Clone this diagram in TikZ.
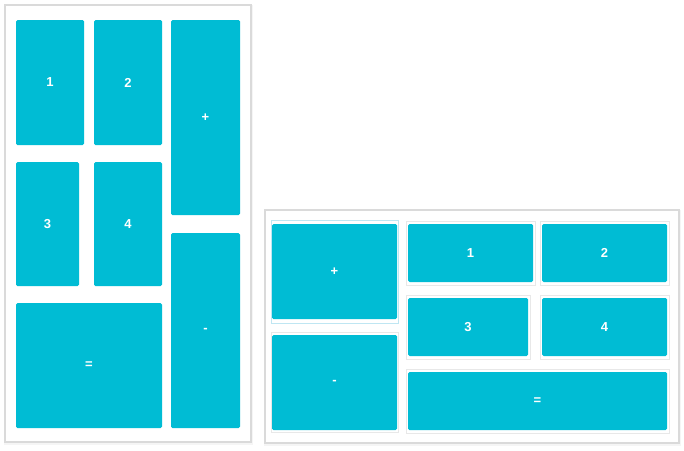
\documentclass[tikz,border=0pt]{standalone}
\usepackage{fontspec}
\setmainfont{Liberation Sans}
\definecolor{tilecyan}{HTML}{00BCD4}
\definecolor{framegray}{HTML}{DADADA}
\definecolor{outgray}{HTML}{E8E8E8}
\definecolor{selblue}{HTML}{BFE6F2}
\tikzset{
  tile/.style={fill=tilecyan, draw=none, rounded corners=1.5pt, inner sep=0pt, outer sep=0pt,
    anchor=north west, text=white, font=\fontsize{13}{13}\selectfont\bfseries},
  panel/.style={fill=white, draw=framegray, line width=1.6pt},
  tileout/.style={draw=outgray, line width=0.8pt, fill=white},
  selout/.style={draw=selblue, line width=1pt, fill=white},
}
\begin{document}
\begin{tikzpicture}[x=1pt,y=-1pt]
\useasboundingbox (0,0) rectangle (684,450);
% left panel
\fill[gray!8] (4,5) rectangle (253,445);
\draw[panel] (5,5) rectangle (251,442);
\node[tile, minimum width=68pt, minimum height=125pt] (a1) at (16,20) {1};
\node[tile, minimum width=68pt, minimum height=125pt] (a2) at (94,20) {2};
\node[tile, minimum width=69pt, minimum height=195pt] (ap) at (171,20) {+};
\node[tile, minimum width=63pt, minimum height=124pt] (a3) at (16,162) {3};
\node[tile, minimum width=68pt, minimum height=124pt] (a4) at (94,162) {4};
\node[tile, minimum width=69pt, minimum height=195pt] (am) at (171,233) {-};
\node[tile, minimum width=146pt, minimum height=125pt] (ae) at (16,303) {=};
% right panel
\fill[gray!8] (264,210) rectangle (681,446);
\draw[panel] (265,210) rectangle (679,443);
\draw[selout] (271,220) rectangle (398,323);
\draw[tileout] (271,332) rectangle (398,432);
\draw[tileout] (406,221) rectangle (535,285);
\draw[tileout] (540,221) rectangle (669,285);
\draw[tileout] (406,295) rectangle (530,359);
\draw[tileout] (540,295) rectangle (669,359);
\draw[tileout] (406,369) rectangle (669,433);
\node[tile, minimum width=125pt, minimum height=95pt] (bp) at (272,224) {+};
\node[tile, minimum width=125pt, minimum height=95pt] (bm) at (272,335) {-};
\node[tile, minimum width=125pt, minimum height=58pt] (b1) at (408,224) {1};
\node[tile, minimum width=125pt, minimum height=58pt] (b2) at (542,224) {2};
\node[tile, minimum width=120pt, minimum height=58pt] (b3) at (408,298) {3};
\node[tile, minimum width=125pt, minimum height=58pt] (b4) at (542,298) {4};
\node[tile, minimum width=259pt, minimum height=58pt] (be) at (408,372) {=};
\end{tikzpicture}
\end{document}
